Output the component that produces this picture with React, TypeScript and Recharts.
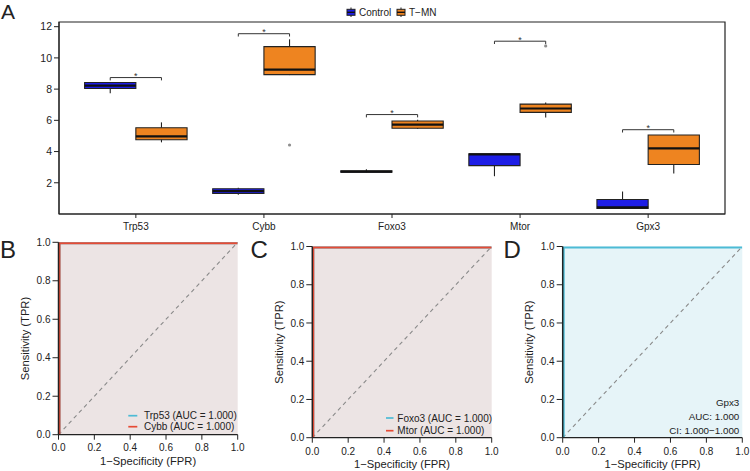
import React from 'react';
import {
  ComposedChart,
  LineChart,
  Line,
  Scatter,
  XAxis,
  YAxis,
  ReferenceArea,
  ReferenceLine,
} from 'recharts';

const FONT = '"Liberation Sans", Arial, Helvetica, sans-serif';
const INK = '#222';

// ---- Panel A: expression box plots ----
const genes = ['Trp53', 'Cybb', 'Foxo3', 'Mtor', 'Gpx3'];

const ctrlMin = [7.74, 1.23, 2.66, 2.42, 0.36];
const ctrlQ1 = [8.04, 1.31, 2.68, 3.1, 0.36];
const ctrlMed = [8.22, 1.46, 2.72, 3.82, 0.42];
const ctrlQ3 = [8.42, 1.62, 2.76, 3.85, 0.93];
const ctrlMax = [8.42, 1.68, 2.86, 3.85, 1.44];

const tmnMin = [4.59, 8.9, 5.45, 6.19, 2.59];
const tmnQ1 = [4.76, 8.93, 5.49, 6.51, 3.17];
const tmnMed = [4.97, 9.25, 5.72, 6.76, 4.21];
const tmnQ3 = [5.53, 10.72, 5.96, 7.04, 5.06];
const tmnMax = [5.87, 11.19, 6.04, 7.15, 5.06];

const tmnOutlierGene = ['Cybb', 'Mtor'];
const tmnOutlierValue = [4.42, 10.77];

const bracketY = [8.74, 11.55, 6.37, 11.07, 5.4];
const sigLabels = ['*', '*', '*', '*', '*'];
const yTicks = [2, 4, 6, 8, 10, 12];
const yDomain: [number, number] = [0, 12.3];
const xDomain: [number, number] = [0.4, 5.6];

const BOX_HALF = 0.2;
const DODGE = 0.2;
const BRACKET_DROP = 0.18;

const groups = [
  { name: 'Control', color: '#1E1EE6', offset: -DODGE, min: ctrlMin, q1: ctrlQ1, med: ctrlMed, q3: ctrlQ3, max: ctrlMax },
  { name: 'T\u2212MN', color: '#EE8420', offset: DODGE, min: tmnMin, q1: tmnQ1, med: tmnMed, q3: tmnQ3, max: tmnMax },
];

const outlierData = tmnOutlierGene.map((g, i) => ({
  x: genes.indexOf(g) + 1 + DODGE,
  y: tmnOutlierValue[i],
}));

const starData = genes.map((_, i) => ({ x: i + 1, y: bracketY[i], label: sigLabels[i] }));

const OutlierDot = (props: any) => (
  <circle cx={props.cx} cy={props.cy} r={1.6} fill="#8f8f8f" />
);

const StarMark = (props: any) => (
  <text x={props.cx} y={props.cy + 1.4} textAnchor="middle" fontSize={9} fill="#333" fontFamily={FONT}>
    {props.payload.label}
  </text>
);

function boxElements() {
  return groups.flatMap((g) =>
    genes.flatMap((gene, i) => {
      const c = i + 1 + g.offset;
      const l = c - BOX_HALF;
      const r = c + BOX_HALF;
      const k = `${g.name}-${gene}`;
      return [
        <ReferenceLine key={`${k}-lw`} segment={[{ x: c, y: g.min[i] }, { x: c, y: g.q1[i] }]} stroke={INK} strokeWidth={1.1} />,
        <ReferenceLine key={`${k}-uw`} segment={[{ x: c, y: g.q3[i] }, { x: c, y: g.max[i] }]} stroke={INK} strokeWidth={1.1} />,
        <ReferenceArea key={`${k}-box`} x1={l} x2={r} y1={g.q1[i]} y2={g.q3[i]} fill={g.color} fillOpacity={1} stroke={INK} strokeWidth={1.1} />,
        <ReferenceLine key={`${k}-med`} segment={[{ x: l, y: g.med[i] }, { x: r, y: g.med[i] }]} stroke="#111" strokeWidth={2.2} />,
      ];
    })
  );
}

function bracketElements() {
  return genes.flatMap((gene, i) => {
    const l = i + 1 - DODGE;
    const r = i + 1 + DODGE;
    const b = bracketY[i];
    return [
      <ReferenceLine key={`${gene}-bh`} segment={[{ x: l, y: b }, { x: r, y: b }]} stroke="#333" strokeWidth={1} />,
      <ReferenceLine key={`${gene}-bl`} segment={[{ x: l, y: b }, { x: l, y: b - BRACKET_DROP }]} stroke="#333" strokeWidth={1} />,
      <ReferenceLine key={`${gene}-br`} segment={[{ x: r, y: b }, { x: r, y: b - BRACKET_DROP }]} stroke="#333" strokeWidth={1} />,
    ];
  });
}

function BoxPanel() {
  return (
    <ComposedChart width={750} height={240} margin={{ top: 22, right: 25, bottom: 0, left: 0 }}>
      <XAxis
        type="number"
        dataKey="x"
        domain={xDomain}
        ticks={[1, 2, 3, 4, 5]}
        interval={0}
        tickFormatter={(v: number) => genes[v - 1]}
        height={26}
        tickSize={4}
        tickMargin={4.5}
        axisLine={{ stroke: INK }}
        tickLine={{ stroke: INK }}
        tick={{ fontSize: 10, fill: INK }}
      />
      <YAxis
        type="number"
        dataKey="y"
        domain={yDomain}
        ticks={yTicks}
        interval={0}
        width={59}
        tickSize={5}
        tickMargin={2}
        axisLine={{ stroke: INK }}
        tickLine={{ stroke: INK }}
        tick={{ fontSize: 10.5, fill: INK }}
      />
      <ReferenceArea x1={xDomain[0]} x2={xDomain[1]} y1={yDomain[0]} y2={yDomain[1]} fill="none" stroke={INK} strokeWidth={1.2} />
      {boxElements()}
      {bracketElements()}
      <Scatter data={outlierData} shape={OutlierDot} isAnimationActive={false} />
      <Scatter data={starData} shape={StarMark} isAnimationActive={false} />
    </ComposedChart>
  );
}

// ---- Panels B-D: ROC curves ----
const rocFpr = [0, 0, 1];
const rocTpr = [0, 1, 1];
const rocData = rocFpr.map((f, i) => ({ fpr: f, tpr: rocTpr[i] }));
const rocTicks = [0, 0.2, 0.4, 0.6, 0.8, 1];

const CYAN = '#4DBBD5';
const RED = '#E64B35';

type RocCfg = {
  left: number;
  width: number;
  yAxisWidth: number;
  marginTop: number;
  marginRight: number;
  axisHeight: number;
  xTitleOffset: number;
  yTitleOffset: number;
  xTickMargin: number;
  bg: string;
  curves: { name: string; color: string }[];
};

const rocPanels: RocCfg[] = [
  {
    left: 0, width: 245, yAxisWidth: 58.5, marginTop: 12.3, marginRight: 7.3, axisHeight: 36.3,
    xTitleOffset: 6.4, yTitleOffset: 25, xTickMargin: 4.5, bg: '#ECE4E4',
    curves: [{ name: 'Trp53', color: CYAN }, { name: 'Cybb', color: RED }],
  },
  {
    left: 250, width: 250, yAxisWidth: 62.3, marginTop: 16.5, marginRight: 8.3, axisHeight: 33.3,
    xTitleOffset: 3.1, yTitleOffset: 29, xTickMargin: 5, bg: '#ECE4E4',
    curves: [{ name: 'Foxo3', color: CYAN }, { name: 'Mtor', color: RED }],
  },
  {
    left: 500, width: 250, yAxisWidth: 62.7, marginTop: 16.5, marginRight: 7.7, axisHeight: 33.3,
    xTitleOffset: 3.1, yTitleOffset: 29, xTickMargin: 5, bg: '#E6F4F8',
    curves: [{ name: 'Gpx3', color: CYAN }],
  },
];

function RocPanel({ cfg }: { cfg: RocCfg }) {
  return (
    <LineChart
      width={cfg.width}
      height={241}
      data={rocData}
      margin={{ top: cfg.marginTop, right: cfg.marginRight, bottom: 0, left: 0 }}
    >
      <XAxis
        type="number"
        dataKey="fpr"
        domain={[0, 1]}
        allowDataOverflow
        ticks={rocTicks}
        interval={0}
        tickFormatter={(v: number) => v.toFixed(1)}
        height={cfg.axisHeight}
        tickSize={5}
        tickMargin={cfg.xTickMargin}
        axisLine={{ stroke: INK, strokeWidth: 1.2 }}
        tickLine={{ stroke: INK }}
        tick={{ fontSize: 10, fill: INK }}
        label={{ value: '1\u2212Specificity (FPR)', position: 'insideBottom', offset: cfg.xTitleOffset, fontSize: 11.2, fill: INK }}
      />
      {/* top and right frame edges, drawn as bare axes */}
      <XAxis
        xAxisId="frameTop"
        orientation="top"
        type="number"
        domain={[0, 1]}
        height={0}
        tick={false}
        tickLine={false}
        axisLine={{ stroke: INK, strokeWidth: 2 }}
      />
      <YAxis
        type="number"
        domain={[0, 1]}
        allowDataOverflow
        ticks={rocTicks}
        interval={0}
        tickFormatter={(v: number) => v.toFixed(1)}
        width={cfg.yAxisWidth}
        tickSize={6}
        tickMargin={2}
        axisLine={{ stroke: INK, strokeWidth: 1.5 }}
        tickLine={{ stroke: INK }}
        tick={{ fontSize: 10, fill: INK }}
        label={{
          value: 'Sensitivity (TPR)',
          angle: -90,
          position: 'insideLeft',
          offset: cfg.yTitleOffset,
          fontSize: 11.2,
          fill: INK,
          style: { textAnchor: 'middle' },
        }}
      />
      <YAxis
        yAxisId="frameRight"
        orientation="right"
        type="number"
        domain={[0, 1]}
        width={0}
        tick={false}
        tickLine={false}
        axisLine={{ stroke: INK, strokeWidth: 1.2 }}
      />
      <ReferenceArea x1={0} x2={1} y1={0} y2={1} fill={cfg.bg} fillOpacity={1} stroke="none" />
      <ReferenceLine segment={[{ x: 0, y: 0 }, { x: 1, y: 1 }]} stroke="#8a8a8a" strokeWidth={1.1} strokeDasharray="4 3.5" />
      {cfg.curves.map((c) => (
        <Line
          key={c.name}
          name={c.name}
          dataKey="tpr"
          type="linear"
          stroke={c.color}
          strokeWidth={4}
          dot={false}
          isAnimationActive={false}
        />
      ))}
    </LineChart>
  );
}

// ---- Legends and panel letters ----
const aucText = ['1.000', '1.000', '1.000', '1.000'];

function LegendBoxIcon({ x, color }: { x: number; color: string }) {
  return (
    <g>
      <line x1={x + 4} x2={x + 4} y1={7.5} y2={17} stroke={INK} strokeWidth={1} />
      <rect x={x} y={9.3} width={8} height={6} fill={color} stroke={INK} strokeWidth={1} />
      <line x1={x} x2={x + 8} y1={12.3} y2={12.3} stroke="#111" strokeWidth={1.4} />
    </g>
  );
}

function Overlay() {
  const t = { fontFamily: FONT, fill: INK } as const;
  return (
    <svg width={750} height={471} style={{ position: 'absolute', left: 0, top: 0, pointerEvents: 'none' }}>
      <text x={1} y={18.5} fontSize={21} {...t}>A</text>
      <text x={0} y={258} fontSize={24} {...t}>B</text>
      <text x={250.5} y={258} fontSize={24} {...t}>C</text>
      <text x={503.5} y={258} fontSize={24} {...t}>D</text>

      <LegendBoxIcon x={347} color={groups[0].color} />
      <text x={359} y={15.8} fontSize={10} {...t}>{groups[0].name}</text>
      <LegendBoxIcon x={397} color={groups[1].color} />
      <text x={409} y={15.8} fontSize={10} {...t}>{groups[1].name}</text>

      <line x1={128.3} x2={137.3} y1={415.7} y2={415.7} stroke={CYAN} strokeWidth={1.7} />
      <text x={144} y={419.3} fontSize={10} {...t}>{`Trp53 (AUC = ${aucText[0]})`}</text>
      <line x1={128.3} x2={137.3} y1={426.7} y2={426.7} stroke={RED} strokeWidth={1.7} />
      <text x={144} y={430.3} fontSize={10} {...t}>{`Cybb (AUC = ${aucText[1]})`}</text>

      <line x1={386} x2={393.5} y1={418} y2={418} stroke={CYAN} strokeWidth={1.7} />
      <text x={397.3} y={421.6} fontSize={10} {...t}>{`Foxo3 (AUC = ${aucText[2]})`}</text>
      <line x1={386} x2={393.5} y1={430.7} y2={430.7} stroke={RED} strokeWidth={1.7} />
      <text x={397.3} y={434.3} fontSize={10} {...t}>{`Mtor (AUC = ${aucText[3]})`}</text>

      <text x={739.3} y={406.2} fontSize={9.8} textAnchor="end" {...t}>Gpx3</text>
      <text x={739.3} y={420.2} fontSize={9.8} textAnchor="end" {...t}>AUC: 1.000</text>
      <text x={739.3} y={434.2} fontSize={9.8} textAnchor="end" {...t}>CI: 1.000{'\u2212'}1.000</text>
    </svg>
  );
}

export default function App() {
  return (
    <div
      style={{
        position: 'absolute',
        left: 0,
        top: 0,
        width: 750,
        height: 471,
        background: '#fff',
        fontFamily: FONT,
        overflow: 'hidden',
      }}
    >
      <div style={{ position: 'absolute', left: 0, top: 0 }}>
        <BoxPanel />
      </div>
      {rocPanels.map((cfg, i) => (
        <div key={i} style={{ position: 'absolute', left: cfg.left, top: 230 }}>
          <RocPanel cfg={cfg} />
        </div>
      ))}
      <Overlay />
    </div>
  );
}
